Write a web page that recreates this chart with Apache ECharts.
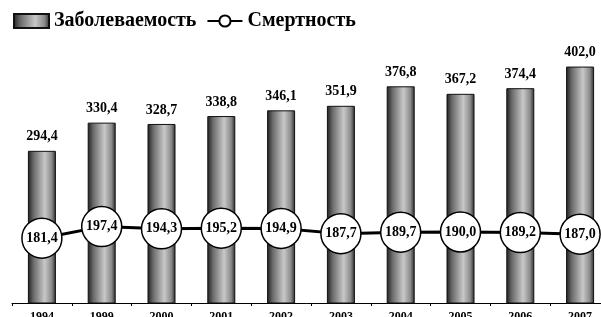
<!DOCTYPE html>
<html><head><meta charset="utf-8">
<script src="https://cdn.jsdelivr.net/npm/echarts@6/dist/echarts.min.js"></script>
<style>html,body{margin:0;padding:0;background:#fff}#c{width:601px;height:317px}</style>
</head><body><div id="c"></div>
<script>
var years = ['1994','1999','2000','2001','2002','2003','2004','2005','2006','2007'];
var morbidity = [294.4,330.4,328.7,338.8,346.1,351.9,376.8,367.2,374.4,402.0];
var mortality = [181.4,197.4,194.3,195.2,194.9,187.7,189.7,190.0,189.2,187.0];
var seriesNames = ['Заболеваемость','Смертность'];

var F = 'Liberation Serif, Times New Roman, serif';
var fmt = function(p){ return p.value.toFixed(1).replace('.', ','); };
var grad = new echarts.graphic.LinearGradient(0,0,1,0,[
  {offset:0,color:'#1e1e1e'},{offset:0.2,color:'#6a6a6a'},{offset:0.6,color:'#c8c8c8'},{offset:0.85,color:'#8a8a8a'},{offset:1,color:'#2a2a2a'}]);
var chart = echarts.init(document.getElementById('c'));
chart.setOption({
  animation:false,
  legend:{left:8,top:6,itemWidth:35,itemHeight:14,itemGap:10,
    textStyle:{fontFamily:F,fontWeight:'bold',fontSize:20,color:'#000'},
    data:[{name:seriesNames[0],icon:'rect'},{name:seriesNames[1]}]},
  grid:{left:12,top:29,width:598,height:274,containLabel:false,outerBoundsMode:'none'},
  xAxis:{type:'category',data:years,
    axisLine:{lineStyle:{color:'#000',width:1}},
    axisTick:{show:true,length:3,lineStyle:{color:'#000'}},
    axisLabel:{margin:8,fontFamily:F,fontWeight:'bold',fontSize:12,color:'#000'}},
  yAxis:[{type:'value',min:100,max:450,show:false},
         {type:'value',min:92,max:470,show:false}],
  series:[
    {name:seriesNames[0],type:'bar',data:morbidity,barWidth:28,
      itemStyle:{color:grad,borderColor:'#111',borderWidth:1},
      label:{show:true,position:'top',distance:7,formatter:fmt,fontFamily:F,fontWeight:'bold',fontSize:14,color:'#000'}},
    {name:seriesNames[1],type:'line',yAxisIndex:1,data:mortality,symbol:'circle',symbolSize:40,
      lineStyle:{color:'#000',width:3},
      itemStyle:{color:'#fff',borderColor:'#000',borderWidth:1.5},
      label:{show:true,position:'inside',formatter:fmt,fontFamily:F,fontWeight:'bold',fontSize:14,color:'#000'},
      z:5}
  ]
});
</script></body></html>
